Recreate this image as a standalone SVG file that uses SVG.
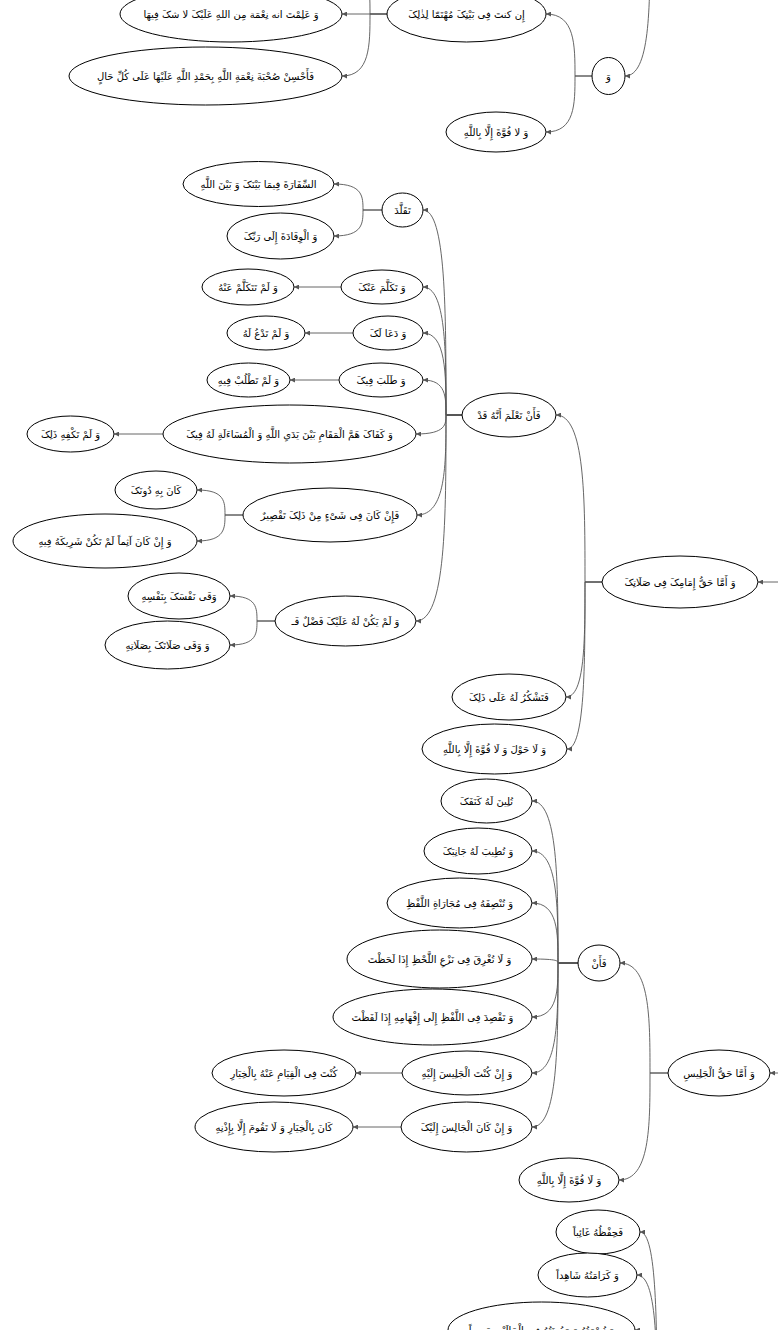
<svg xmlns="http://www.w3.org/2000/svg" width="778" height="1330" viewBox="0 0 778 1330">
<style>
.n ellipse{fill:#fff;stroke:#000;stroke-width:1}
.n text{font-family:"DejaVu Sans",sans-serif;font-size:10px;fill:#000;text-anchor:middle}
#edges path{fill:none;stroke:#555;stroke-width:0.9;marker-end:url(#ah)}
</style>
<defs>
<marker id="ah" markerUnits="userSpaceOnUse" markerWidth="6" markerHeight="5" refX="5" refY="2.5" orient="auto">
<path d="M0,0 L5,2.5 L0,5 z" fill="#555"/>
</marker>
</defs>
<rect width="778" height="1330" fill="#fff"/>
<g id="edges">
<path d="M387,14 H342"/>
<path d="M387,14 H370 C370,45 370,76 342,76"/>
<path d="M387,14 H370 C370,-13 370,-40 342,-40"/>
<path d="M667,-60 H650 C650,8 650,76 625,76"/>
<path d="M592,76 H575 C575,45 575,14 546,14"/>
<path d="M592,76 H575 C575,104 575,132 546,132"/>
<path d="M382,210 H363 C363,197 363,184 334,184"/>
<path d="M382,210 H363 C363,223 363,236 334,236"/>
<path d="M341,287 H294"/>
<path d="M353,333 H305"/>
<path d="M339,380 H290"/>
<path d="M163,434 H114"/>
<path d="M243,515 H225 C225,502 225,490 197,490"/>
<path d="M243,515 H225 C225,528 225,541 197,541"/>
<path d="M275,621 H257 C257,608 257,596 230,596"/>
<path d="M275,621 H257 C257,633 257,645 230,645"/>
<path d="M462,415 H446 C446,312 446,210 423,210"/>
<path d="M462,415 H446 C446,351 446,287 423,287"/>
<path d="M462,415 H446 C446,374 446,333 423,333"/>
<path d="M462,415 H446 C446,397 446,380 423,380"/>
<path d="M462,415 H446 C446,424 446,434 416,434"/>
<path d="M462,415 H446 C446,465 446,515 417,515"/>
<path d="M462,415 H446 C446,518 446,621 416,621"/>
<path d="M602,582 H585 C585,498 585,415 556,415"/>
<path d="M602,582 H585 C585,640 585,697 566,697"/>
<path d="M602,582 H585 C585,665 585,749 567,749"/>
<path d="M790,582 H758"/>
<path d="M578,963 H558 C558,882 558,801 532,801"/>
<path d="M578,963 H558 C558,907 558,851 532,851"/>
<path d="M578,963 H558 C558,933 558,903 532,903"/>
<path d="M578,963 H558 C558,961 558,959 532,959"/>
<path d="M578,963 H558 C558,990 558,1017 532,1017"/>
<path d="M578,963 H558 C558,1018 558,1073 532,1073"/>
<path d="M578,963 H558 C558,1045 558,1127 532,1127"/>
<path d="M402,1073 H356"/>
<path d="M401,1127 H353"/>
<path d="M668,1073 H650 C650,1018 650,963 620,963"/>
<path d="M668,1073 H650 C650,1126 650,1180 619,1180"/>
<path d="M790,1073 H770"/>
<path d="M672,1420 H657 C657,1326 657,1232 640,1232"/>
<path d="M672,1420 H657 C657,1347 657,1275 637,1275"/>
<path d="M672,1420 H657 C657,1375 657,1330 635,1330"/>
</g>
<g id="n1" class="n"><ellipse cx="231" cy="14" rx="111" ry="28"/><text x="231" y="18">وَ عَلِمْتَ انه نِعْمَة مِن اللهِ عَلَیْکَ لا شکَ فِیهَا</text></g>
<g id="n2" class="n"><ellipse cx="205.5" cy="76" rx="136.5" ry="29"/><text x="205.5" y="80">فَأَحْسِنْ صُحْبَةَ نِعْمَةِ اللَّهِ بِحَمْدِ اللَّهِ عَلَیْهَا عَلَی کُلِّ حَالٍ</text></g>
<g id="n3" class="n"><ellipse cx="466.5" cy="14" rx="79.5" ry="28"/><text x="466.5" y="18">إِن کنتَ فِی بَیْتِکَ مُهْتَمّا لِذٰلِکَ</text></g>
<g id="n4" class="n"><ellipse cx="608.5" cy="76" rx="16.5" ry="18.5"/><text x="608.5" y="80">وَ</text></g>
<g id="n5" class="n"><ellipse cx="496" cy="132" rx="50" ry="20"/><text x="496" y="136">وَ لا قُوَّةَ إِلَّا بِاللَّهِ</text></g>
<g id="n6" class="n"><ellipse cx="258.5" cy="184" rx="75.5" ry="22.5"/><text x="258.5" y="188">السِّفَارَةَ فِیمَا بَیْنَکَ وَ بَیْنَ اللَّهِ</text></g>
<g id="n7" class="n"><ellipse cx="280.5" cy="236" rx="53.5" ry="23"/><text x="280.5" y="240">وَ الْوِفَادَةَ إِلَی رَبِّکَ</text></g>
<g id="n8" class="n"><ellipse cx="402.5" cy="210" rx="20.5" ry="17"/><text x="402.5" y="214">تَقَلَّدَ</text></g>
<g id="n9" class="n"><ellipse cx="382" cy="287" rx="41" ry="17"/><text x="382" y="291">وَ تَکَلَّمَ عَنْکَ</text></g>
<g id="n10" class="n"><ellipse cx="248" cy="287" rx="46" ry="18"/><text x="248" y="291">وَ لَمْ تَتَکَلَّمْ عَنْهُ</text></g>
<g id="n11" class="n"><ellipse cx="388" cy="333" rx="35" ry="17"/><text x="388" y="337">وَ دَعَا لَکَ</text></g>
<g id="n12" class="n"><ellipse cx="266" cy="333" rx="39" ry="17"/><text x="266" y="337">وَ لَمْ تَدْعُ لَهُ</text></g>
<g id="n13" class="n"><ellipse cx="381" cy="380" rx="42" ry="17"/><text x="381" y="384">وَ طَلَبَ فِیکَ</text></g>
<g id="n14" class="n"><ellipse cx="248.5" cy="380" rx="41.5" ry="17"/><text x="248.5" y="384">وَ لَمْ تَطْلُبْ فِیهِ</text></g>
<g id="n15" class="n"><ellipse cx="289.5" cy="434" rx="126.5" ry="29"/><text x="289.5" y="438">وَ کَفَاکَ هَمَّ الْمَقَامِ بَیْنَ یَدَیِ اللَّهِ وَ الْمُسَاءَلَةِ لَهُ فِیکَ</text></g>
<g id="n16" class="n"><ellipse cx="70.5" cy="434" rx="43.5" ry="18"/><text x="70.5" y="438">وَ لَمْ تَکْفِهِ ذَلِکَ</text></g>
<g id="n17" class="n"><ellipse cx="330" cy="515" rx="87" ry="27"/><text x="330" y="519">فَإِنْ کَانَ فِی شَیْءٍ مِنْ ذَلِکَ تَقْصِیرٌ</text></g>
<g id="n18" class="n"><ellipse cx="156" cy="490" rx="41" ry="19"/><text x="156" y="494">کَانَ بِهِ دُونَکَ</text></g>
<g id="n19" class="n"><ellipse cx="105" cy="541" rx="92" ry="27"/><text x="105" y="545">وَ إِنْ کَانَ آثِماً لَمْ تَکُنْ شَرِیکَهُ فِیهِ</text></g>
<g id="n20" class="n"><ellipse cx="345.5" cy="621" rx="70.5" ry="25"/><text x="345.5" y="625">وَ لَمْ یَکُنْ لَهُ عَلَیْکَ فَضْلٌ فَـ</text></g>
<g id="n21" class="n"><ellipse cx="179" cy="596" rx="51" ry="23"/><text x="179" y="600">وَقَی نَفْسَکَ بِنَفْسِهِ</text></g>
<g id="n22" class="n"><ellipse cx="167.5" cy="645" rx="62.5" ry="24"/><text x="167.5" y="649">وَ وَقَی صَلَاتَکَ بِصَلَاتِهِ</text></g>
<g id="n23" class="n"><ellipse cx="509" cy="415" rx="47" ry="22"/><text x="509" y="419">فَأَنْ تَعْلَمَ أَنَّهُ قَدْ</text></g>
<g id="n24" class="n"><ellipse cx="680" cy="582" rx="78" ry="26"/><text x="680" y="586">وَ أَمَّا حَقُّ إِمَامِکَ فِی صَلَاتِکَ</text></g>
<g id="n25" class="n"><ellipse cx="509" cy="697" rx="57" ry="23"/><text x="509" y="701">فَتَشْکُرُ لَهُ عَلَی ذَلِکَ</text></g>
<g id="n26" class="n"><ellipse cx="494.5" cy="749" rx="72.5" ry="25"/><text x="494.5" y="753">وَ لَا حَوْلَ وَ لَا قُوَّةَ إِلَّا بِاللَّهِ</text></g>
<g id="n27" class="n"><ellipse cx="486.5" cy="801" rx="45.5" ry="22"/><text x="486.5" y="805">تُلِینَ لَهُ کَنَفَکَ</text></g>
<g id="n28" class="n"><ellipse cx="478" cy="851" rx="54" ry="23"/><text x="478" y="855">وَ تُطِیبَ لَهُ جَانِبَکَ</text></g>
<g id="n29" class="n"><ellipse cx="459.5" cy="903" rx="72.5" ry="25"/><text x="459.5" y="907">وَ تُنْصِفَهُ فِی مُجَارَاةِ اللَّفْظِ</text></g>
<g id="n30" class="n"><ellipse cx="439.5" cy="959" rx="92.5" ry="29"/><text x="439.5" y="963">وَ لَا تُغْرِقَ فِی نَزْعِ اللَّحْظِ إِذَا لَحَظْتَ</text></g>
<g id="n31" class="n"><ellipse cx="432.5" cy="1017" rx="99.5" ry="28"/><text x="432.5" y="1021">وَ تَقْصِدَ فِی اللَّفْظِ إِلَی إِفْهَامِهِ إِذَا لَفَظْتَ</text></g>
<g id="n32" class="n"><ellipse cx="467" cy="1073" rx="65" ry="22"/><text x="467" y="1077">وَ إِنْ کُنْتَ الْجَلِیسَ إِلَیْهِ</text></g>
<g id="n33" class="n"><ellipse cx="284" cy="1073" rx="72" ry="23"/><text x="284" y="1077">کُنْتَ فِی الْقِیَامِ عَنْهُ بِالْخِیَارِ</text></g>
<g id="n34" class="n"><ellipse cx="466.5" cy="1127" rx="65.5" ry="25"/><text x="466.5" y="1131">وَ إِنْ کَانَ الْجَالِسَ إِلَیْکَ</text></g>
<g id="n35" class="n"><ellipse cx="274" cy="1127" rx="79" ry="25"/><text x="274" y="1131">کَانَ بِالْخِیَارِ وَ لَا تَقُومَ إِلَّا بِإِذْنِهِ</text></g>
<g id="n36" class="n"><ellipse cx="599" cy="963" rx="21" ry="18"/><text x="599" y="967">فَأَنْ</text></g>
<g id="n37" class="n"><ellipse cx="719" cy="1073" rx="51" ry="23"/><text x="719" y="1077">وَ أَمَّا حَقُّ الْجَلِیسِ</text></g>
<g id="n38" class="n"><ellipse cx="569" cy="1180" rx="50" ry="22"/><text x="569" y="1184">وَ لَا قُوَّةَ إِلَّا بِاللَّهِ</text></g>
<g id="n39" class="n"><ellipse cx="598" cy="1232" rx="42" ry="22"/><text x="598" y="1236">فَحِفْظُهُ غَائِباً</text></g>
<g id="n40" class="n"><ellipse cx="587.5" cy="1275" rx="49.5" ry="22"/><text x="587.5" y="1279">وَ کَرَامَتُهُ شَاهِداً</text></g>
<g id="n41" class="n"><ellipse cx="541.5" cy="1330" rx="93.5" ry="28"/><text x="541.5" y="1334">وَ نُصْرَتُهُ وَ مَعُونَتُهُ فِی الْحَالَیْنِ جَمِیعاً</text></g>
</svg>
